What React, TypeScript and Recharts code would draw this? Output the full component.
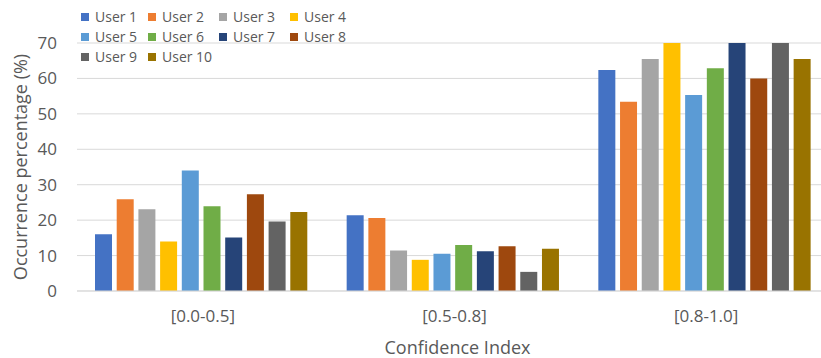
import React from 'react';
import { BarChart, Bar, XAxis, YAxis, CartesianGrid } from 'recharts';

// Confidence-index buckets on the category axis
const categories = ['[0.0-0.5]', '[0.5-0.8]', '[0.8-1.0]'];

// One series per user
const users = ['User 1', 'User 2', 'User 3', 'User 4', 'User 5', 'User 6', 'User 7', 'User 8', 'User 9', 'User 10'];
const colors = ['#4472C4', '#ED7D31', '#A5A5A5', '#FFC000', '#5B9BD5', '#70AD47', '#264478', '#9E480E', '#636363', '#997300'];

// Occurrence percentage per bucket, in category order
const user1 = [16.0, 21.4, 62.4];
const user2 = [25.9, 20.6, 53.4];
const user3 = [23.1, 11.4, 65.5];
const user4 = [14.0, 8.8, 70];
const user5 = [34.0, 10.5, 55.3];
const user6 = [23.9, 13.0, 62.9];
const user7 = [15.1, 11.2, 70];
const user8 = [27.3, 12.6, 60.0];
const user9 = [19.6, 5.4, 70];
const user10 = [22.3, 11.9, 65.5];

const seriesValues = [user1, user2, user3, user4, user5, user6, user7, user8, user9, user10];

const yTicks = [0, 10, 20, 30, 40, 50, 60, 70];

const data = categories.map((category, i) => {
  const row: Record<string, string | number> = { category };
  users.forEach((u, k) => {
    row[u] = seriesValues[k][i];
  });
  return row;
});

const FONT = "'Open Sans', sans-serif";
const TEXT = '#595959';
const GRID = '#D9D9D9';

const YTitle = (props: any) => {
  const vb = props.viewBox || {};
  const cx = 20;
  const cy = vb.y + vb.height / 2;
  return (
    <text
      x={cx}
      y={cy}
      transform={`rotate(-90, ${cx}, ${cy})`}
      textAnchor="middle"
      dominantBaseline="central"
      fill={TEXT}
      fontFamily={FONT}
      fontSize={18}
    >
      Occurrence percentage (%)
    </text>
  );
};

const XTitle = (props: any) => {
  const vb = props.viewBox || {};
  const cx = vb.x + vb.width / 2 + 3;
  return (
    <text x={cx} y={347} textAnchor="middle" dominantBaseline="central" fill={TEXT} fontFamily={FONT} fontSize={18}>
      Confidence Index
    </text>
  );
};

const legendColumns = [67, 71, 71, 71];

const UserLegend = () => (
  <div
    style={{
      position: 'absolute',
      left: 81,
      top: 7,
      display: 'grid',
      gridTemplateColumns: legendColumns.map((w) => `${w}px`).join(' '),
      fontFamily: FONT,
      fontSize: 14,
      color: TEXT,
      zIndex: 2,
    }}
  >
    {users.map((u, i) => (
      <div key={u} style={{ display: 'flex', alignItems: 'center', height: 20, whiteSpace: 'nowrap' }}>
        <span style={{ display: 'inline-block', width: 8, height: 8, background: colors[i], marginRight: 6 }} />
        <span style={{ lineHeight: '20px' }}>{u}</span>
      </div>
    ))}
  </div>
);

export default function App() {
  return (
    <div style={{ position: 'absolute', left: 0, top: 0, width: 821, height: 358, overflow: 'hidden', background: '#fff' }}>
      <BarChart
        width={840}
        height={358}
        data={data}
        margin={{ top: 43, right: 8, bottom: 0, left: 0 }}
        barCategoryGap={18}
        barGap={4.7}
      >
        <CartesianGrid vertical={false} stroke={GRID} strokeWidth={1} />
        <XAxis
          dataKey="category"
          height={67}
          axisLine={{ stroke: GRID }}
          tickLine={false}
          tickSize={0}
          tickMargin={19}
          tick={{ fill: TEXT, fontSize: 17, fontFamily: FONT }}
          label={<XTitle />}
        />
        <YAxis
          width={77}
          domain={[0, 70]}
          ticks={yTicks}
          interval={0}
          allowDataOverflow
          axisLine={false}
          tickLine={false}
          tickSize={0}
          tickMargin={20}
          tick={{ fill: TEXT, fontSize: 17, fontFamily: FONT }}
          label={<YTitle />}
        />
        {users.map((u, i) => (
          <Bar key={u} dataKey={u} fill={colors[i]} isAnimationActive={false} />
        ))}
      </BarChart>
      <UserLegend />
    </div>
  );
}
